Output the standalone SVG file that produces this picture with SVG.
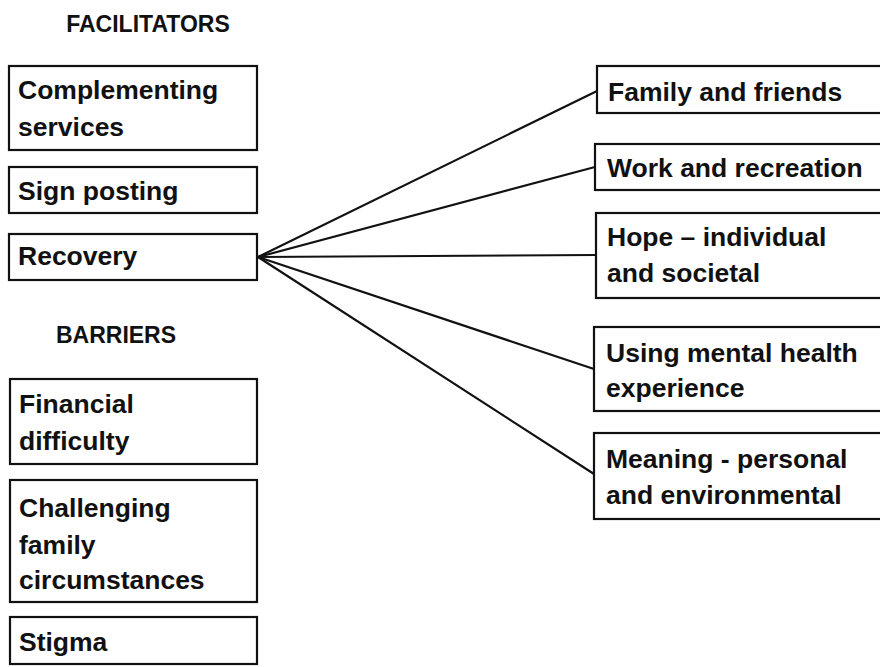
<svg xmlns="http://www.w3.org/2000/svg" width="880" height="667" viewBox="0 0 880 667">
<style>
.box{fill:#fff;stroke:#111;stroke-width:2.2}
.t{font-family:"Liberation Sans",Arial,sans-serif;font-weight:bold;font-size:26.5px;fill:#111}
.h{font-family:"Liberation Sans",Arial,sans-serif;font-weight:bold;font-size:23px;fill:#111;text-anchor:middle}
.c{stroke:#111;stroke-width:2.2;fill:none}
</style>
<rect width="880" height="667" fill="#fff"/>
<text class="h" x="148" y="32">FACILITATORS</text>
<text class="h" x="116" y="343">BARRIERS</text>
<g id="connectors">
<line class="c" x1="258" y1="257" x2="597" y2="91"/>
<line class="c" x1="258" y1="257" x2="595" y2="167"/>
<line class="c" x1="258" y1="257" x2="596" y2="255"/>
<line class="c" x1="258" y1="257" x2="594" y2="369"/>
<line class="c" x1="258" y1="257" x2="594" y2="474"/>
</g>
<g id="complementing"><rect class="box" x="9" y="66" width="248" height="84"/><text class="t" x="18" y="99">Complementing</text><text class="t" x="18" y="136">services</text></g>
<g id="signposting"><rect class="box" x="9" y="167" width="248" height="46"/><text class="t" x="18" y="200">Sign posting</text></g>
<g id="recovery"><rect class="box" x="9" y="234" width="248" height="46"/><text class="t" x="18" y="265">Recovery</text></g>
<g id="financial"><rect class="box" x="10" y="379" width="247" height="85"/><text class="t" x="19" y="413">Financial</text><text class="t" x="19" y="450">difficulty</text></g>
<g id="challenging"><rect class="box" x="10" y="480" width="247" height="122"/><text class="t" x="19" y="517">Challenging</text><text class="t" x="19" y="554">family</text><text class="t" x="19" y="589">circumstances</text></g>
<g id="stigma"><rect class="box" x="10" y="617" width="247" height="47"/><text class="t" x="19" y="651">Stigma</text></g>
<g id="family"><rect class="box" x="597" y="66" width="300" height="47"/><text class="t" x="608" y="101">Family and friends</text></g>
<g id="work"><rect class="box" x="595" y="144" width="300" height="46"/><text class="t" x="607" y="177">Work and recreation</text></g>
<g id="hope"><rect class="box" x="596" y="213" width="300" height="85"/><text class="t" x="607" y="246">Hope – individual</text><text class="t" x="607" y="282">and societal</text></g>
<g id="using"><rect class="box" x="594" y="327" width="300" height="84"/><text class="t" x="606" y="362">Using mental health</text><text class="t" x="606" y="397">experience</text></g>
<g id="meaning"><rect class="box" x="594" y="433" width="300" height="86"/><text class="t" x="606" y="468">Meaning - personal</text><text class="t" x="606" y="504">and environmental</text></g>
</svg>
